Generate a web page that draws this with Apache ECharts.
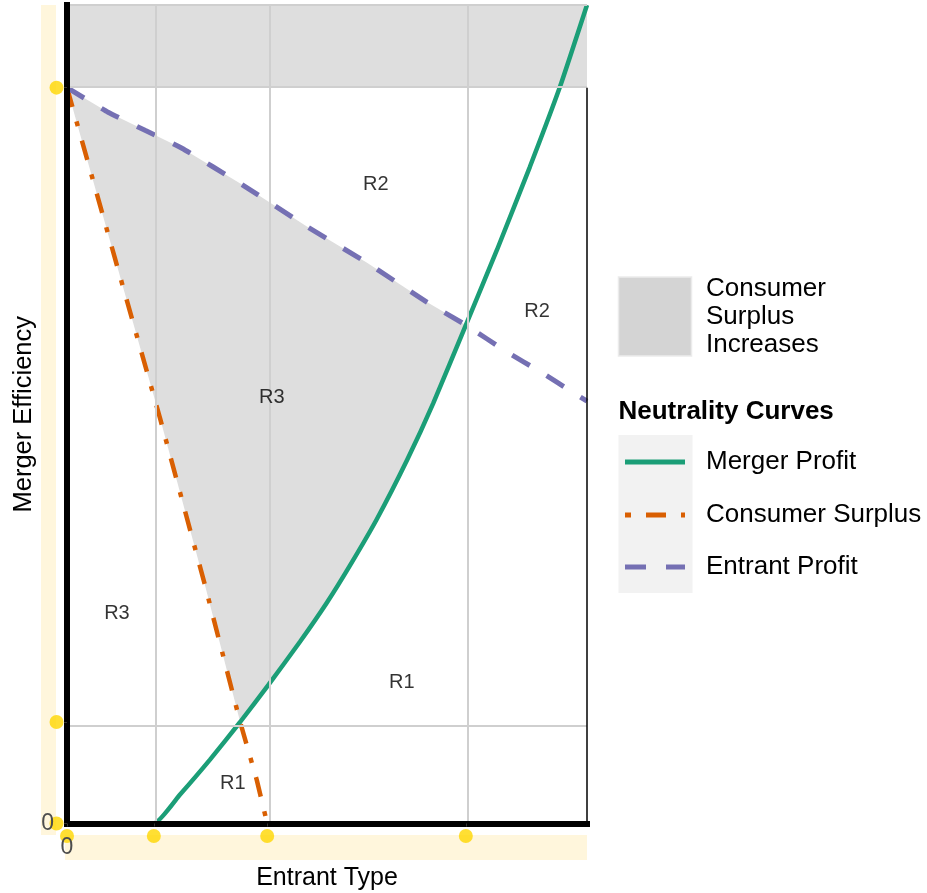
<!DOCTYPE html>
<html>
<head>
<meta charset="utf-8">
<script src="https://cdn.jsdelivr.net/npm/echarts@6/dist/echarts.min.js"></script>
<style>
  html, body { margin: 0; padding: 0; background: #ffffff; }
  #chart { width: 927px; height: 893px; }
</style>
</head>
<body>
<div id="chart"></div>
<script>
// Neutrality curves in (entrant type, merger efficiency) space
const mergerProfit = [
  [0, 0], [0.167, 0], [0.217, 0.035], [0.275, 0.078], [0.333, 0.124],
  [0.387, 0.169], [0.448, 0.222], [0.500, 0.270], [0.544, 0.315],
  [0.596, 0.372], [0.654, 0.444], [0.704, 0.513], [0.767, 0.609],
  [0.827, 0.701], [0.890, 0.802], [0.948, 0.900], [1.0, 1.0]
];
const consumerSurplus = [
  [0, 0.899], [0.092, 0.691], [0.179, 0.495], [0.265, 0.292],
  [0.333, 0.124], [0.365, 0.053], [0.385, 0], [1.0, 0]
];
const entrantProfit = [
  [0, 0.899], [0.079, 0.869], [0.150, 0.847], [0.221, 0.825],
  [0.338, 0.780], [0.462, 0.729], [0.577, 0.685], [0.692, 0.637],
  [0.767, 0.609], [0.846, 0.576], [0.910, 0.552], [0.977, 0.525],
  [1.0, 0.516]
];

// Consumer-surplus-increase region: the band above the efficiency threshold
// and the wedge enclosed by the three curves between these entrant types
const csBandY = [0.899, 1.0];
const csWedgeX = [0.333, 0.767];

// Critical values marked on the axes
const xTicks = [0, 0.167, 0.385, 0.767];
const yTicks = [0, 0.124, 0.899];
const gridY = [0.124, 0.899, 1.0];

// Region annotations
const regionNames = ['R2', 'R2', 'R3', 'R3', 'R1', 'R1'];
const regionX = [0.594, 0.904, 0.394, 0.096, 0.644, 0.319];
const regionY = [0.781, 0.625, 0.521, 0.257, 0.172, 0.049];

const FONT = "'Liberation Sans', Arial, sans-serif";
const GREEN = '#1b9e77', ORANGE = '#d95f02', PURPLE = '#7570b3';

// Wedge outline: consumer-surplus curve down, merger-profit curve up, entrant-profit curve back
const wedge = consumerSurplus.filter(p => p[0] <= csWedgeX[0])
  .concat(mergerProfit.filter(p => p[0] > csWedgeX[0] && p[0] <= csWedgeX[1]))
  .concat(entrantProfit.filter(p => p[0] < csWedgeX[1]).reverse());

const chart = echarts.init(document.getElementById('chart'), null, { renderer: 'canvas' });

const option = {
  animation: false,
  backgroundColor: '#ffffff',
  grid: { left: 67, right: 340, top: 5, bottom: 69.5, containLabel: false, outerBoundsMode: 'none' },
  xAxis: {
    type: 'value', min: 0, max: 1, z: 10, offset: 3.5,
    name: 'Entrant Type', nameLocation: 'middle', nameGap: 39, nameMoveOverlap: false,
    nameTextStyle: { fontFamily: FONT, fontSize: 25, color: '#000' },
    axisLine: { show: true, lineStyle: { color: '#000', width: 6, cap: 'square' } },
    axisTick: { show: true, customValues: xTicks, length: 3, lineStyle: { color: '#333', width: 1 } },
    axisLabel: { customValues: [0], margin: 9, fontFamily: FONT, fontSize: 23, color: '#4d4d4d' },
    splitLine: { show: false }
  },
  yAxis: {
    type: 'value', min: 0, max: 1, z: 10, offset: 2,
    name: 'Merger Efficiency', nameLocation: 'middle', nameGap: 28, nameMoveOverlap: false,
    nameTextStyle: { fontFamily: FONT, fontSize: 25.5, color: '#000' },
    axisLine: { show: true, lineStyle: { color: '#000', width: 6, cap: 'square' } },
    axisTick: { show: true, customValues: yTicks, length: 3, lineStyle: { color: '#333', width: 1 } },
    axisLabel: { customValues: [0], margin: 11, padding: [5, 0, 0, 0], fontFamily: FONT, fontSize: 23, color: '#4d4d4d' },
    splitLine: { show: false }
  },
  series: [
    {
      // shaded consumer-surplus region
      type: 'custom', z: 1, silent: true,
      data: [[0, 0]],
      renderItem: function (params, api) {
        return {
          type: 'polygon',
          shape: { points: wedge.map(p => api.coord(p)) },
          style: { fill: '#dedede', stroke: null }
        };
      },
      markArea: {
        silent: true,
        itemStyle: { color: '#dedede' },
        data: [[{ yAxis: csBandY[0] }, { yAxis: csBandY[1] }]]
      }
    },
    {
      // reference grid at the critical values
      type: 'line', z: 2, silent: true, data: [],
      markLine: {
        silent: true, symbol: 'none', label: { show: false }, animation: false,
        lineStyle: { color: '#cfcfcf', width: 2, type: 'solid' },
        data: xTicks.filter(v => v > 0).map(v => ({ xAxis: v }))
          .concat(gridY.map(v => ({ yAxis: v })))
      }
    },
    {
      type: 'line', z: 2, silent: true, data: [],
      markLine: {
        silent: true, symbol: 'none', label: { show: false },
        lineStyle: { color: '#000', width: 1.5, type: 'solid' },
        data: [[{ coord: [1, 0] }, { coord: [1, csBandY[0]] }]]
      }
    },
    {
      name: 'Merger Profit', type: 'line', z: 4, showSymbol: false, silent: true,
      data: mergerProfit, smooth: 0.15,
      lineStyle: { color: GREEN, width: 4.5, cap: 'butt' }
    },
    {
      name: 'Consumer Surplus', type: 'line', z: 4, showSymbol: false, silent: true,
      data: consumerSurplus,
      lineStyle: { color: ORANGE, width: 4.5, type: [20, 15, 5, 15], cap: 'butt' }
    },
    {
      name: 'Entrant Profit', type: 'line', z: 4, showSymbol: false, silent: true,
      data: entrantProfit, smooth: 0.15,
      lineStyle: { color: PURPLE, width: 5, type: [20, 20], cap: 'butt' }
    },
    {
      // region labels
      type: 'scatter', z: 5, silent: true, symbolSize: 0,
      data: regionNames.map((n, i) => ({ name: n, value: [regionX[i], regionY[i]] })),
      label: {
        show: true, position: 'inside', formatter: '{b}',
        fontFamily: FONT, fontSize: 20, color: '#000'
      }
    },
    {
      // rug marks for critical entrant types
      type: 'scatter', z: 3, silent: true, clip: false,
      symbol: 'circle', symbolSize: 14, symbolOffset: [0, 12.5],
      itemStyle: { color: '#ffd700' },
      data: xTicks.map(v => [v, 0])
    },
    {
      // rug marks for critical efficiencies
      type: 'scatter', z: 3, silent: true, clip: false,
      symbol: 'circle', symbolSize: 14, symbolOffset: [-10.5, 0],
      itemStyle: { color: '#ffd700' },
      data: yTicks.map(v => [0, v])
    }
  ],
  graphic: [
    // rug backgrounds
    { type: 'rect', z: -10, silent: true, shape: { x: 41, y: 5, width: 15, height: 830 }, style: { fill: '#fff6dc' } },
    { type: 'rect', z: -10, silent: true, shape: { x: 65, y: 835, width: 522, height: 25 }, style: { fill: '#fff6dc' } },

    // fill legend
    { type: 'rect', silent: true, shape: { x: 618.5, y: 277, width: 73, height: 79 }, style: { fill: '#d4d4d4', stroke: '#ebebeb', lineWidth: 1.5 } },
    { type: 'text', silent: true, style: { x: 706, y: 289, text: 'Consumer', font: "26px " + FONT, fill: '#000', textVerticalAlign: 'middle' } },
    { type: 'text', silent: true, style: { x: 706, y: 317, text: 'Surplus', font: "26px " + FONT, fill: '#000', textVerticalAlign: 'middle' } },
    { type: 'text', silent: true, style: { x: 706, y: 345, text: 'Increases', font: "26px " + FONT, fill: '#000', textVerticalAlign: 'middle' } },

    // line legend
    { type: 'text', silent: true, style: { x: 618.5, y: 411.5, text: 'Neutrality Curves', font: "bold 26px " + FONT, fill: '#000', textVerticalAlign: 'middle' } },
    { type: 'rect', silent: true, shape: { x: 618.5, y: 435, width: 74, height: 158 }, style: { fill: '#f2f2f2' } },
    { type: 'line', silent: true, shape: { x1: 625, y1: 462, x2: 685, y2: 462 }, style: { stroke: GREEN, lineWidth: 5 } },
    { type: 'line', silent: true, shape: { x1: 625, y1: 515, x2: 685, y2: 515 }, style: { stroke: ORANGE, lineWidth: 5, lineDash: [6, 15, 20, 15] } },
    { type: 'line', silent: true, shape: { x1: 625, y1: 567, x2: 685, y2: 567 }, style: { stroke: PURPLE, lineWidth: 5, lineDash: [21, 20] } },
    { type: 'text', silent: true, style: { x: 706, y: 462, text: 'Merger Profit', font: "26px " + FONT, fill: '#000', textVerticalAlign: 'middle' } },
    { type: 'text', silent: true, style: { x: 706, y: 515, text: 'Consumer Surplus', font: "26px " + FONT, fill: '#000', textVerticalAlign: 'middle' } },
    { type: 'text', silent: true, style: { x: 706, y: 567, text: 'Entrant Profit', font: "26px " + FONT, fill: '#000', textVerticalAlign: 'middle' } }
  ]
};

chart.setOption(option);
</script>
</body>
</html>
